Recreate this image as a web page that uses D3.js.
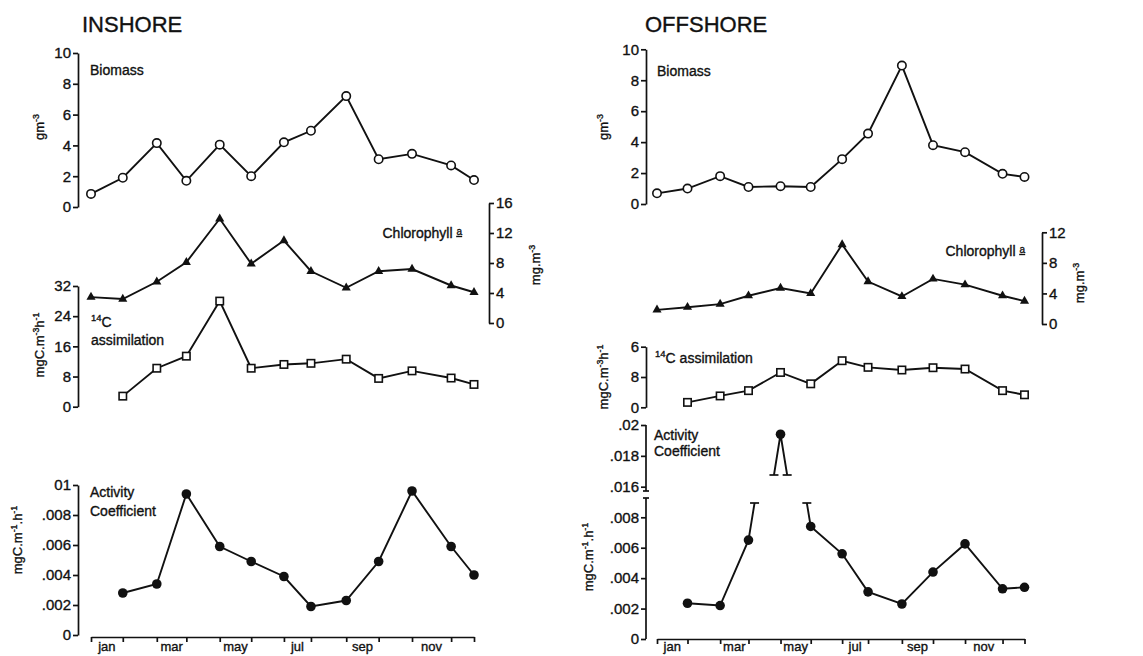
<!DOCTYPE html>
<html>
<head>
<meta charset="utf-8">
<script src="https://cdn.jsdelivr.net/npm/d3@7"></script>
<style>
body { margin: 0; background: #fff; }
svg { font-family: 'Liberation Sans', Arial, Helvetica, sans-serif; }
svg text { stroke: #111; stroke-width: 0.35px; }
.axis path, .axis line { stroke: #111; stroke-width: 1.7; }
.axis text { font-size: 15px; fill: #111; font-family: 'Liberation Sans', Arial, sans-serif; }
.series { fill: none; stroke: #111; stroke-width: 1.9; }
</style>
</head>
<body>
<div id="canvas"></div>
<script>
// sampling dates, in months from the start of january
const sampleMonths = [0, 1, 2.07, 3, 4.05, 5.04, 6.07, 6.92, 8.03, 9.05, 10.1, 11.33, 12.05]
const monthLabels = ['jan', 'mar', 'may', 'jul', 'sep', 'nov']

// inshore series
const inshoreBiomass = [0.85, 1.9, 4.15, 1.7, 4.05, 2.0, 4.2, 4.95, 7.2, 3.1, 3.45, 2.7, 1.75]
const inshoreChl = [3.45, 3.2, 5.5, 8.1, 13.9, 7.9, 11.0, 6.9, 4.7, 6.9, 7.2, 5.0, 4.1]
const inshoreC14 = [null, 2.8, 10.2, 13.4, 28.0, 10.2, 11.2, 11.5, 12.6, 7.5, 9.5, 7.6, 5.9]
const inshoreAct = [null, 0.0028, 0.0034, 0.0094, 0.0059, 0.0049, 0.0039, 0.0019, 0.0023, 0.0049, 0.0096, 0.0059, 0.0040]

// offshore series
const offshoreBiomass = [0.69, 1.0, 1.8, 1.1, 1.15, 1.1, 2.9, 4.55, 8.95, 3.8, 3.35, 1.95, 1.75]
const offshoreChl = [1.85, 2.2, 2.6, 3.7, 4.7, 4.0, 10.4, 5.55, 3.6, 5.9, 5.15, 3.7, 3.0]
const offshoreC14 = [null, 1.3, 3.0, 4.4, 9.2, 6.2, 12.3, 10.55, 9.85, 10.45, 10.1, 4.4, 3.3]
const offshoreAct = [null, 0.00235, 0.0022, 0.0065, 0.0194, 0.0074, 0.0056, 0.0031, 0.0023, 0.0044, 0.00625, 0.0033, 0.0034]

// tick values and labels
const biomassTicks = [0, 2, 4, 6, 8, 10]
const inshoreChlTicks = [0, 4, 8, 12, 16]
const offshoreChlTicks = [0, 4, 8, 12]
const inshoreC14Ticks = [0, 8, 16, 24, 32]
const offshoreC14Ticks = [0, 8, 16]
const offshoreC14Labels = ['0', '8', '6']
const inshoreActTicks = [0, 0.002, 0.004, 0.006, 0.008, 0.01]
const inshoreActLabels = ['0', '.002', '.004', '.006', '.008', '01']
const offshoreActLowTicks = [0, 0.002, 0.004, 0.006, 0.008]
const offshoreActLowLabels = ['0', '.002', '.004', '.006', '.008']
const offshoreActHighTicks = [0.016, 0.018, 0.02]
const offshoreActHighLabels = ['.016', '.018', '.02']

const width = 1143
const height = 656
const labelSize = 14

const svg = d3.select('#canvas').append('svg')
  .attr('width', width)
  .attr('height', height)

const toPoints = values => values.map((v, i) => ({ m: sampleMonths[i], v: v })).filter(d => d.v != null)

// text with superscript parts: parts = [[text, isSup], ...]
const richText = function (g, x, y, parts, size, anchor) {
  const t = g.append('text')
    .attr('x', x)
    .attr('y', y)
    .attr('font-size', size)
    .attr('text-anchor', anchor || 'start')
    .attr('fill', '#111')
  let shift = 0
  parts.forEach(([s, sup]) => {
    const target = sup ? -size * 0.42 : 0
    t.append('tspan')
      .attr('dy', target - shift)
      .attr('font-size', sup ? size * 0.68 : size)
      .text(s)
    shift = target
  })
  return t
}

const plainText = function (x, y, s, size) {
  svg.append('text').attr('x', x).attr('y', y)
    .attr('font-size', size || labelSize).attr('fill', '#111').text(s)
}

const rotatedLabel = function (cx, cy, parts, size) {
  const g = svg.append('g').attr('transform', `translate(${cx},${cy}) rotate(-90)`)
  richText(g, 0, 0, parts, size, 'middle')
}

const chlLabel = function (xEnd, y) {
  const t = svg.append('text')
    .attr('x', xEnd)
    .attr('y', y)
    .attr('text-anchor', 'end')
    .attr('font-size', labelSize)
    .attr('fill', '#111')
  t.append('tspan').text('Chlorophyll ')
  t.append('tspan').attr('dy', -3).attr('font-size', 10)
    .attr('text-decoration', 'underline').text('a')
}

const yAxis = function (scale, ticks, labels, x, right) {
  const ax = (right ? d3.axisRight(scale) : d3.axisLeft(scale))
    .tickValues(ticks)
    .tickSize(5)
    .tickSizeOuter(0)
    .tickPadding(2)
    .tickFormat((d, i) => labels ? labels[i] : d)
  return svg.append('g')
    .attr('class', 'axis')
    .attr('transform', `translate(${x},0)`)
    .call(ax)
}

const xAxis = function (x, y) {
  svg.append('g')
    .attr('class', 'axis')
    .attr('transform', `translate(0,${y})`)
    .call(d3.axisBottom(x).tickValues(sampleMonths).tickFormat('').tickSize(5).tickSizeOuter(0))
  monthLabels.forEach((label, i) => {
    svg.append('text')
      .attr('x', x((sampleMonths[2 * i] + sampleMonths[2 * i + 1]) / 2))
      .attr('y', 651)
      .attr('text-anchor', 'middle')
      .attr('font-size', 13)
      .attr('fill', '#111')
      .text(label)
  })
}

const drawLine = function (x, y, values, clip) {
  const p = svg.append('path')
    .datum(toPoints(values))
    .attr('class', 'series')
    .attr('d', d3.line().x(d => x(d.m)).y(d => y(d.v)))
  if (clip) p.attr('clip-path', `url(#${clip})`)
}

const drawMarkers = function (x, y, points, kind) {
  points.forEach(d => {
    const cx = x(d.m)
    const cy = y(d.v)
    if (kind === 'open') {
      svg.append('circle').attr('cx', cx).attr('cy', cy).attr('r', 4.2)
        .attr('fill', '#fff').attr('stroke', '#111').attr('stroke-width', 1.6)
    } else if (kind === 'filled') {
      svg.append('circle').attr('cx', cx).attr('cy', cy).attr('r', 4.8)
        .attr('fill', '#111')
    } else if (kind === 'square') {
      svg.append('rect').attr('x', cx - 3.7).attr('y', cy - 3.7).attr('width', 7.4).attr('height', 7.4)
        .attr('fill', '#fff').attr('stroke', '#111').attr('stroke-width', 1.6)
    } else {
      svg.append('path').attr('d', d3.symbol(d3.symbolTriangle, 36)())
        .attr('transform', `translate(${cx},${cy})`)
        .attr('fill', '#111')
    }
  })
}

const series = function (x, y, values, kind) {
  drawLine(x, y, values)
  drawMarkers(x, y, toPoints(values), kind)
}

// ---------- INSHORE ----------
const xIn = d3.scaleLinear().domain([0, 12.05]).range([91, 474])
const yInBio = d3.scaleLinear().domain([0, 10]).range([207, 53])
const yInChl = d3.scaleLinear().domain([0, 16]).range([323, 203])
const yInC14 = d3.scaleLinear().domain([0, 32]).range([406.7, 286])
const yInAct = d3.scaleLinear().domain([0, 0.01]).range([635, 485])

plainText(82, 32, 'INSHORE', 22)

yAxis(yInBio, biomassTicks, null, 78)
yAxis(yInChl, inshoreChlTicks, null, 489, true)
yAxis(yInC14, inshoreC14Ticks, null, 78)
yAxis(yInAct, inshoreActTicks, inshoreActLabels, 78)
xAxis(xIn, 637)

series(xIn, yInBio, inshoreBiomass, 'open')
series(xIn, yInChl, inshoreChl, 'triangle')
series(xIn, yInC14, inshoreC14, 'square')
series(xIn, yInAct, inshoreAct, 'filled')

plainText(90, 75, 'Biomass')
rotatedLabel(44, 127, [['gm', false], ['-3', true]], 13)
chlLabel(462, 238)
rotatedLabel(540, 265, [['mg.m', false], ['-3', true]], 13)
richText(svg, 91, 327, [['14', true], ['C', false]], 14)
plainText(91, 345, 'assimilation')
rotatedLabel(44, 345, [['mgC.m', false], ['-3', true], ['h', false], ['-1', true]], 13)
plainText(90, 497, 'Activity')
plainText(90, 516, 'Coefficient')
rotatedLabel(22, 540, [['mgC.m', false], ['-1', true], ['.h', false], ['-1', true]], 13)

// ---------- OFFSHORE ----------
const xOff = d3.scaleLinear().domain([0, 12.05]).range([657, 1024.5])
const yOffBio = d3.scaleLinear().domain([0, 10]).range([204, 49.3])
const yOffChl = d3.scaleLinear().domain([0, 12]).range([324, 232.3])
const yOffC14 = d3.scaleLinear().domain([0, 16]).range([407.3, 346.7])
const yOffLow = d3.scaleLinear().domain([0, 0.008]).range([639, 517.3])
const yOffHigh = d3.scaleLinear().domain([0.016, 0.02]).range([486.7, 425])
const lowTop = 503
const highBottom = 475
const offAxisX = 646

plainText(645, 32, 'OFFSHORE', 22)

yAxis(yOffBio, biomassTicks, null, offAxisX)
yAxis(yOffChl, offshoreChlTicks, null, 1042, true)
yAxis(yOffC14, offshoreC14Ticks, offshoreC14Labels, offAxisX)

// broken activity axis
const lowAx = yAxis(yOffLow, offshoreActLowTicks, offshoreActLowLabels, offAxisX)
const highAx = yAxis(yOffHigh, offshoreActHighTicks, offshoreActHighLabels, offAxisX)
lowAx.select('.domain').remove()
highAx.select('.domain').remove()
const axLine = (x1, y1, x2, y2) => svg.append('line')
  .attr('x1', x1).attr('y1', y1).attr('x2', x2).attr('y2', y2)
  .attr('stroke', '#111').attr('stroke-width', 1.7)
axLine(offAxisX, yOffHigh(0.02), offAxisX, 491)
axLine(offAxisX, 498, offAxisX, yOffLow(0))
axLine(offAxisX - 3, 491, offAxisX + 3, 491)
axLine(offAxisX - 3, 498, offAxisX + 3, 498)

xAxis(xOff, 639)

series(xOff, yOffBio, offshoreBiomass, 'open')
series(xOff, yOffChl, offshoreChl, 'triangle')
series(xOff, yOffC14, offshoreC14, 'square')

// activity line drawn twice on the two parts of the broken scale
const defs = svg.append('defs')
defs.append('clipPath').attr('id', 'clipLow')
  .append('rect').attr('x', 600).attr('y', lowTop).attr('width', 500).attr('height', 160)
defs.append('clipPath').attr('id', 'clipHigh')
  .append('rect').attr('x', 600).attr('y', 400).attr('width', 500).attr('height', highBottom - 400)
drawLine(xOff, yOffLow, offshoreAct, 'clipLow')
drawLine(xOff, yOffHigh, offshoreAct, 'clipHigh')

const actPts = toPoints(offshoreAct)
const lowMax = yOffLow.invert(lowTop)
const highMin = yOffHigh.invert(highBottom)
drawMarkers(xOff, yOffLow, actPts.filter(d => d.v <= lowMax), 'filled')
drawMarkers(xOff, yOffHigh, actPts.filter(d => d.v >= highMin), 'filled')

// end caps where the line leaves each part of the scale
for (let i = 1; i < actPts.length; i++) {
  const a = actPts[i - 1]
  const b = actPts[i]
  const lo = Math.min(a.v, b.v)
  const hi = Math.max(a.v, b.v)
  if (lo < lowMax && hi > highMin) {
    ;[[lowMax, lowTop], [highMin, highBottom]].forEach(([v, yy]) => {
      const t = (v - a.v) / (b.v - a.v)
      const cx = xOff(a.m) + t * (xOff(b.m) - xOff(a.m))
      axLine(cx - 4.5, yy, cx + 4.5, yy)
    })
  }
}

plainText(657, 76, 'Biomass')
rotatedLabel(608, 127, [['gm', false], ['-3', true]], 13)
chlLabel(1025, 256)
rotatedLabel(1084, 283, [['mg.m', false], ['-3', true]], 13)
richText(svg, 655, 363, [['14', true], ['C assimilation', false]], labelSize)
rotatedLabel(608, 377, [['mgC.m', false], ['-3', true], ['h', false], ['-1', true]], 13)
plainText(654, 440, 'Activity')
plainText(654, 456, 'Coefficient')
rotatedLabel(593, 557, [['mgC.m', false], ['-1', true], ['.h', false], ['-1', true]], 13)
</script>
</body>
</html>
